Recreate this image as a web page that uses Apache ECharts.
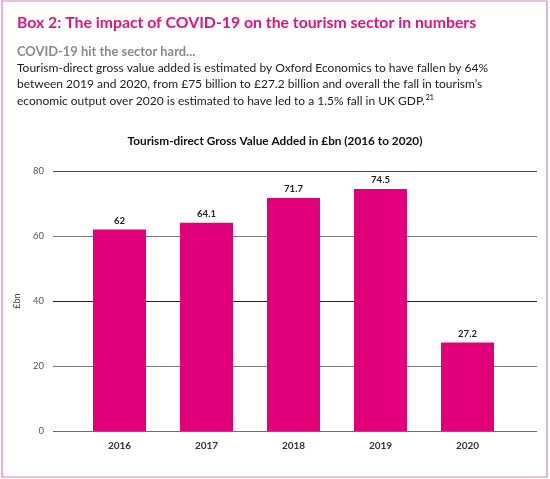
<!DOCTYPE html>
<html>
<head>
<meta charset="utf-8">
<script src="https://cdn.jsdelivr.net/npm/echarts@6/dist/echarts.min.js"></script>
<style>
html,body{margin:0;padding:0;background:#fff;}
#c{width:550px;height:479px;}
</style>
</head>
<body>
<div id="c"></div>
<script>
const categories = ['2016', '2017', '2018', '2019', '2020'];
const gvaValues = [62, 64.1, 71.7, 74.5, 27.2];
const yTicks = [0, 20, 40, 60, 80];

const boxTitle = 'Box 2: The impact of COVID-19 on the tourism sector in numbers';
const subTitle = 'COVID-19 hit the sector hard...';
const paraLines = [
  'Tourism-direct gross value added is estimated by Oxford Economics to have fallen by 64%',
  'between 2019 and 2020, from £75 billion to £27.2 billion and overall the fall in tourism\u2019s',
  'economic output over 2020 is estimated to have led to a 1.5% fall in UK GDP.'
];
const footnote = '21';
const chartTitle = 'Tourism-direct Gross Value Added in £bn (2016 to 2020)';
const yName = '£bn';

const FONT = 'Lato';
const chart = echarts.init(document.getElementById('c'), null, {renderer: 'canvas'});

const option = {
  backgroundColor: '#ffffff',
  animation: false,
  graphic: [
    {type: 'rect', shape: {x: 2, y: 1, width: 545, height: 476}, style: {fill: 'none', stroke: '#d77ec3', lineWidth: 1.2}, silent: true},
    {type: 'text', left: 17, top: 15, style: {text: boxTitle, font: 'bold 15.8px ' + FONT, fill: '#e0137f'}},
    {type: 'text', left: 17, top: 45, style: {text: subTitle, font: 'bold 12.9px ' + FONT, fill: '#8a8a8a'}},
    {type: 'text', left: 17, top: 62, style: {text: paraLines[0], font: '12px ' + FONT, fill: '#222'}},
    {type: 'text', left: 17, top: 78, style: {text: paraLines[1], font: '12px ' + FONT, fill: '#222'}},
    {type: 'text', left: 17, top: 94, style: {
      text: '{a|' + paraLines[2] + '}{s|' + footnote + '}',
      rich: {
        a: {font: '12px ' + FONT, fill: '#222', color: '#222'},
        s: {font: '7px ' + FONT, color: '#222', padding: [0, 0, 7, 1]}
      }
    }},
    {type: 'text', left: 'center', top: 135, style: {text: chartTitle, font: 'bold 11.8px ' + FONT, fill: '#111'}}
  ],
  grid: [
    {left: 53, right: 13, top: 171, bottom: 48},
    {left: 76, right: 39, top: 171, bottom: 48}
  ],
  xAxis: [
    {gridIndex: 0, type: 'value', min: 0, max: 1, show: false},
    {
      gridIndex: 1, type: 'category', data: categories,
      axisLine: {show: false}, axisTick: {show: false},
      axisLabel: {color: '#333', fontFamily: FONT, fontWeight: 'bold', fontSize: 10, margin: 10}
    }
  ],
  yAxis: [
    {
      gridIndex: 0, type: 'value', min: yTicks[0], max: yTicks[yTicks.length - 1], interval: 20,
      name: yName, nameLocation: 'middle', nameGap: 30, nameRotate: 90,
      nameTextStyle: {color: '#444', fontFamily: FONT, fontSize: 9},
      axisLine: {show: false}, axisTick: {show: false},
      axisLabel: {color: '#555', fontFamily: FONT, fontSize: 9.5, margin: 9},
      splitLine: {lineStyle: {color: ['#6e6e6e', '#7a7a7a', '#222222', '#7a7a7a', '#444444'], width: 1.2}}
    },
    {gridIndex: 1, type: 'value', min: yTicks[0], max: yTicks[yTicks.length - 1], show: false}
  ],
  series: [{
    type: 'bar',
    xAxisIndex: 1, yAxisIndex: 1,
    data: gvaValues,
    barWidth: 53,
    itemStyle: {color: '#e2007a'},
    label: {show: true, position: 'top', distance: 4, color: '#222', fontFamily: FONT, fontWeight: 'bold', fontSize: 9.5}
  }]
};
chart.setOption(option);
</script>
</body>
</html>
